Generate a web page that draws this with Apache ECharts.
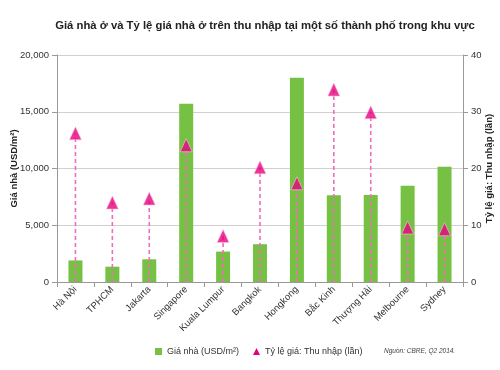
<!DOCTYPE html>
<html><head><meta charset="utf-8">
<script src="https://cdn.jsdelivr.net/npm/echarts@6/dist/echarts.min.js"></script>
<style>html,body{margin:0;padding:0;background:#fff}#c{width:500px;height:370px}</style>
</head><body><div id="c"></div>
<script>
const categories = ['Hà Nội','TPHCM','Jakarta','Singapore','Kuala Lumpur','Bangkok','Hongkong','Bắc Kinh','Thượng Hải','Melbourne','Sydney'];
const housePrice = [1900, 1350, 2000, 15700, 2680, 3330, 18000, 7650, 7670, 8470, 10150];
const priceIncomeRatio = [26.2, 14.0, 14.7, 24.1, 8.1, 20.2, 17.4, 33.9, 29.9, 9.6, 9.3];
const leftTicks = [0, 5000, 10000, 15000, 20000];
const rightTicks = [0, 10, 20, 30, 40];

const font = 'Liberation Sans, Arial, sans-serif';
const chart = echarts.init(document.getElementById('c'));
chart.setOption({
  animation: false,
  title: {
    text: 'Giá nhà ở và Tỷ lệ giá nhà ở trên thu nhập tại một số thành phố trong khu vực',
    left: 260, top: 15, textAlign: 'center',
    textStyle: {fontFamily: font, fontSize: 11.3, fontWeight: 'bold', color: '#222'}
  },
  grid: {left: 57, right: 37, top: 55, bottom: 88, outerBoundsMode: 'none', containLabel: false},
  legend: {
    bottom: 9, left: 150, itemGap: 14, itemWidth: 7, itemHeight: 7,
    textStyle: {fontFamily: font, fontSize: 9, color: '#333'},
    data: [
      {name: 'Giá nhà (USD/m²)', icon: 'rect'},
      {name: 'Tỷ lệ giá: Thu nhập (lần)', icon: 'triangle', itemStyle: {color: '#e6007e'}}
    ]
  },
  graphic: [{
    type: 'text', left: 384, top: 348,
    style: {text: 'Nguồn: CBRE, Q2 2014.', font: 'italic 6.5px ' + font, fill: '#444'}
  }],
  xAxis: {
    type: 'category', data: categories,
    axisLine: {lineStyle: {color: '#999'}},
    axisTick: {show: true, alignWithLabel: false, lineStyle: {color: '#999'}},
    axisLabel: {rotate: 45, interval: 0, fontFamily: font, fontSize: 9.5, color: '#333', margin: 6}
  },
  yAxis: [{
    type: 'value', min: 0, max: 20000, interval: 5000,
    name: 'Giá nhà (USD/m²)', nameLocation: 'middle', nameGap: 38, nameMoveOverlap: false,
    nameTextStyle: {fontFamily: font, fontSize: 9.5, fontWeight: 'bold', color: '#222'},
    axisLine: {show: true, lineStyle: {color: '#999'}},
    axisTick: {show: true, lineStyle: {color: '#999'}},
    axisLabel: {fontFamily: font, fontSize: 9.5, color: '#333',
      formatter: v => leftTicks.includes(v) ? v.toLocaleString('en-US') : ''},
    splitLine: {lineStyle: {color: '#d0d0d0'}}
  }, {
    type: 'value', min: 0, max: 40, interval: 10,
    name: 'Tỷ lệ giá: Thu nhập (lần)', nameLocation: 'middle', nameGap: 21, nameRotate: 90, nameMoveOverlap: false,
    nameTextStyle: {fontFamily: font, fontSize: 9.5, fontWeight: 'bold', color: '#222'},
    axisLine: {show: true, lineStyle: {color: '#999'}},
    axisTick: {show: true, lineStyle: {color: '#999'}},
    axisLabel: {fontFamily: font, fontSize: 9.5, color: '#333',
      formatter: v => rightTicks.includes(v) ? String(v) : ''},
    splitLine: {show: false}
  }],
  series: [{
    name: 'Giá nhà (USD/m²)', type: 'bar', data: housePrice, barWidth: 14,
    itemStyle: {color: '#76c143'}
  }, {
    name: 'Tỷ lệ giá: Thu nhập (lần)', type: 'custom', yAxisIndex: 1,
    data: priceIncomeRatio.map((v, i) => [i, v]),
    renderItem: (params, api) => {
      const top = api.coord([api.value(0), api.value(1)]);
      const base = api.coord([api.value(0), 0]);
      return {type: 'line', shape: {x1: top[0], y1: base[1], x2: top[0], y2: top[1]},
        style: {stroke: '#f06cbd', lineWidth: 1.6, lineDash: [4, 3]}};
    },
    z: 3
  }, {
    name: 'Tỷ lệ giá: Thu nhập (lần)', type: 'scatter', yAxisIndex: 1,
    data: priceIncomeRatio.map((v, i) => [i, v]),
    symbol: 'triangle', symbolSize: [12, 13],
    itemStyle: {color: '#e6007e', borderColor: '#f7c3df', borderWidth: 0.8},
    z: 4
  }]
});
</script></body></html>
